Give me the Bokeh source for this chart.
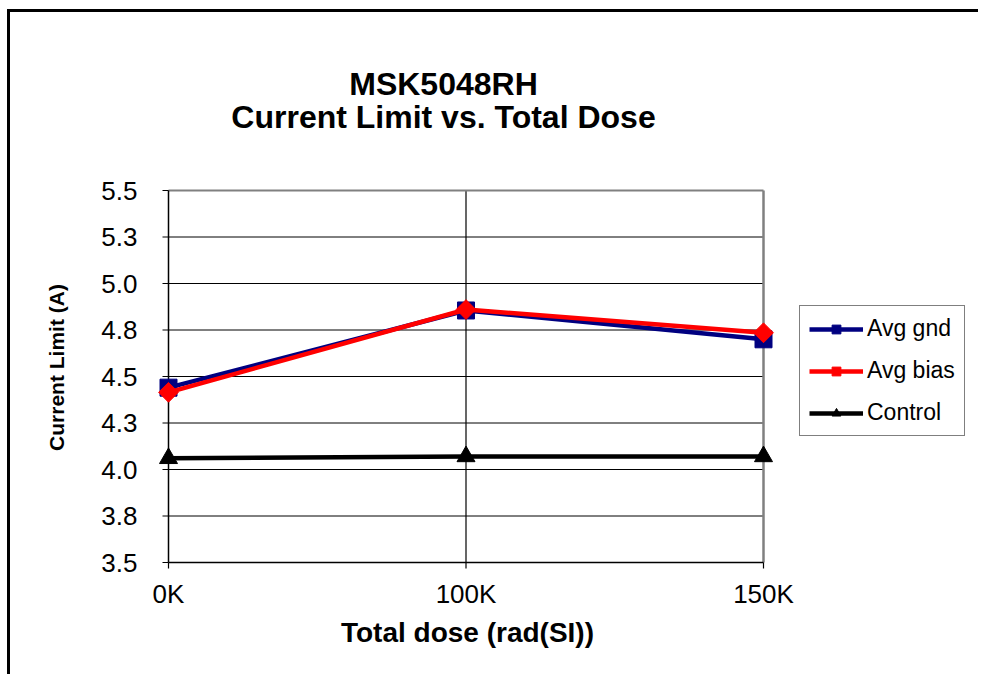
import math
from bokeh.plotting import figure
from bokeh.models import (Legend, LegendItem, Label, LabelSet, ColumnDataSource, Range1d)
from bokeh.core.properties import value
from bokeh.embed import file_html
from bokeh.resources import INLINE

# ---- data ----
categories = ["0K", "100K", "150K"]
avg_gnd = [4.44, 4.855, 4.70]
avg_bias = [4.415, 4.86, 4.735]
control = [4.06, 4.07, 4.07]
y_ticks = [3.5, 3.75, 4.0, 4.25, 4.5, 4.75, 5.0, 5.25, 5.5]
y_tick_labels = ["3.5", "3.8", "4.0", "4.3", "4.5", "4.8", "5.0", "5.3", "5.5"]
series_names = ["Avg gnd", "Avg bias", "Control"]
title_lines = ["MSK5048RH", "Current Limit vs. Total Dose"]
x_title = "Total dose (rad(SI))"
y_title = "Current Limit (A)"

# ---- layout (page pixels) ----
FONT = "Liberation Sans"
W, H = 971, 665            # canvas size
OX, OY = 10, 12            # canvas origin on the page
PL, PR, PT, PB = 168, 763, 190, 562   # plot area on the page
TICK_PX = 6

x = list(range(len(categories)))
x0, x1 = x[0], x[-1]
y0, y1 = y_ticks[0], y_ticks[-1]
kx = (PR - PL) / (x1 - x0)
ky = (PB - PT) / (y1 - y0)
x_range = Range1d(x0 - (PL - OX) / kx, x1 + (OX + W - PR) / kx)
y_range = Range1d(y0 - (OY + H - PB) / ky, y1 + (PT - OY) / ky)

p = figure(width=W, height=H, output_backend="svg", toolbar_location=None,
           x_range=x_range, y_range=y_range, x_axis_type=None, y_axis_type=None,
           min_border=0)
p.styles = {"border-top": "3px solid black", "border-left": "3px solid black",
            "margin-left": "7px", "margin-top": "9px"}
p.background_fill_color = "white"
p.border_fill_color = "white"
p.outline_line_color = None


def hlines(ys, xa, xb, color, width):
    n = len(ys)
    p.segment(x0=[xa] * n, x1=[xb] * n, y0=ys, y1=ys, line_color=color, line_width=width)


def vlines(xs, ya, yb, color, width):
    n = len(xs)
    p.segment(x0=xs, x1=xs, y0=[ya] * n, y1=[yb] * n, line_color=color, line_width=width)


# gridlines (horizontal at inner y ticks, vertical at inner categories)
hlines(y_ticks[1:-1], x0, x1, "black", 1)
vlines(x[1:-1], y0, y1, "black", 1.2)
# plot-area border: grey top and right
hlines([y1], x0, x1, "#808080", 2)
vlines([x1], y0, y1, "#808080", 2.5)
# axis lines and outward tick marks
vlines([x0], y0, y1, "black", 1.5)
hlines([y0], x0, x1, "black", 1.5)
hlines(y_ticks, x0 - TICK_PX / kx, x0, "black", 1.2)
vlines(x, y0 - TICK_PX / ky, y0, "black", 1.2)

# tick labels
ysrc = ColumnDataSource(dict(x=[x0] * len(y_ticks), y=y_ticks, text=y_tick_labels))
p.add_layout(LabelSet(x="x", y="y", text="text", source=ysrc, x_offset=-31,
                      text_align="right", text_baseline="middle",
                      text_font=value(FONT), text_font_size=value("26px"),
                      text_color="black"))
xsrc = ColumnDataSource(dict(x=x, y=[y0] * len(x), text=categories))
p.add_layout(LabelSet(x="x", y="y", text="text", source=xsrc, y_offset=-31,
                      text_align="center", text_baseline="middle",
                      text_font=value(FONT), text_font_size=value("26px"),
                      text_color="black"))


# axis titles and chart title (screen units from the canvas bottom-left)
def add_text(t, px, py, size, angle=0.0):
    p.add_layout(Label(x=px - OX, y=OY + H - py, x_units="screen", y_units="screen",
                       text=t, angle=angle, text_align="center", text_baseline="middle",
                       text_font=FONT, text_font_style="bold", text_font_size=size,
                       text_color="black"))


add_text(y_title, 56, 367, "21px", angle=math.pi / 2)
add_text(x_title, 467, 632, "28px")
add_text(title_lines[0], 443, 83, "32px")
add_text(title_lines[1], 443, 116, "32px")

# series
l1 = p.line(x, avg_gnd, line_color="#000080", line_width=4.5)
m1 = p.scatter(x, avg_gnd, marker="square", size=17, fill_color="#000080", line_color="#000080")
l2 = p.line(x, avg_bias, line_color="#FF0000", line_width=4.5)
m2 = p.scatter(x, avg_bias, marker="square", angle=math.pi / 4, size=14,
               fill_color="#FF0000", line_color="#FF0000")
l3 = p.line(x, control, line_color="black", line_width=4.5)
m3 = p.scatter(x, control, marker="triangle", size=18, fill_color="black", line_color="black")

legend = Legend(items=[
    LegendItem(label=series_names[0], renderers=[l1, m1]),
    LegendItem(label=series_names[1], renderers=[l2, m2]),
    LegendItem(label=series_names[2], renderers=[l3, m3]),
], location=(799 - OX, OY + H - 436))
legend.border_line_color = "black"
legend.border_line_width = 1
legend.background_fill_color = "white"
legend.background_fill_alpha = 1
legend.label_text_font = FONT
legend.label_text_font_size = "23px"
legend.label_text_color = "black"
legend.glyph_width = 54
legend.glyph_height = 22
legend.label_height = 22
legend.spacing = 15
legend.padding = 9
legend.label_standoff = 4
legend.margin = 0
p.add_layout(legend, "center")

open("out.html", "w").write(file_html(p, INLINE))
